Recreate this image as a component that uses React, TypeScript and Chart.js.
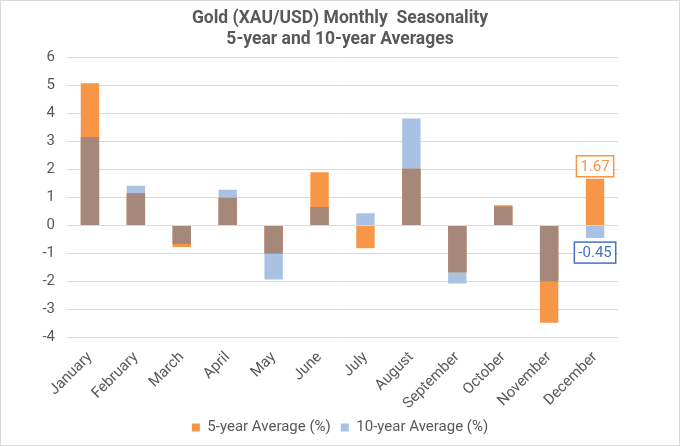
import React, { useEffect, useRef } from "react";
import { Chart, registerables } from "chart.js";

Chart.register(...registerables);

const months = ["January", "February", "March", "April", "May", "June", "July", "August", "September", "October", "November", "December"];
const fiveYear = [5.08, 1.15, -0.77, 0.99, -1.0, 1.9, -0.81, 2.03, -1.67, 0.72, -3.47, 1.67];
const tenYear = [3.16, 1.42, -0.66, 1.28, -1.93, 0.66, 0.44, 3.82, -2.07, 0.68, -2.0, -0.45];
const titleLines = ["Gold (XAU/USD) Monthly  Seasonality", "5-year and 10-year Averages"];
const seriesNames = ["5-year Average (%)", "10-year Average (%)"];

const ORANGE = "#F79646";
const BLUE = "#A9C2E4";
const BROWN = "#A6887A";
const GREY = "#595959";
const FONT = "Roboto, 'Noto Sans', sans-serif";

const overlap = fiveYear.map((a, i) => {
  const b = tenYear[i];
  if (a * b <= 0) return 0;
  return Math.sign(a) * Math.min(Math.abs(a), Math.abs(b));
});

const labelPlugin = {
  id: "lastLabels",
  afterDatasetsDraw(chart: any) {
    const ctx = chart.ctx;
    const idx = months.length - 1;
    const x = chart.scales.x.getPixelForValue(idx);
    const y = chart.scales.y;
    const draw = (val: number, color: string, border: string, above: boolean) => {
      const text = val.toFixed(2);
      ctx.save();
      ctx.font = `15px ${FONT}`;
      const w = ctx.measureText(text).width + 8;
      const h = 21;
      const py = y.getPixelForValue(val);
      const top = above ? py - 2 - h : py + 4;
      ctx.fillStyle = "#ffffff";
      ctx.fillRect(x - w / 2, top, w, h);
      ctx.strokeStyle = border;
      ctx.lineWidth = 1.5;
      ctx.strokeRect(x - w / 2, top, w, h);
      ctx.fillStyle = color;
      ctx.textAlign = "center";
      ctx.textBaseline = "middle";
      ctx.fillText(text, x, top + h / 2 + 1);
      ctx.restore();
    };
    draw(fiveYear[idx], ORANGE, ORANGE, fiveYear[idx] >= 0);
    draw(tenYear[idx], "#4472C4", "#4472C4", tenYear[idx] >= 0);
  },
};

const barOpts = { grouped: false, categoryPercentage: 0.8, barPercentage: 0.5, inflateAmount: 0, borderWidth: 0 };

export default function App() {
  const ref = useRef<HTMLCanvasElement>(null);
  useEffect(() => {
    if (!ref.current) return;
    const chart = new Chart(ref.current, {
      type: "bar",
      data: {
        labels: months,
        datasets: [
          { label: "overlap", data: overlap, backgroundColor: BROWN, ...barOpts } as any,
          { label: seriesNames[0], data: fiveYear, backgroundColor: ORANGE, ...barOpts } as any,
          { label: seriesNames[1], data: tenYear, backgroundColor: BLUE, ...barOpts } as any,
        ],
      },
      options: {
        animation: false,
        responsive: false,
        devicePixelRatio: 1,
        layout: { padding: 0 },
        scales: {
          x: {
            grid: { display: false },
            border: { display: false },
            ticks: {
              color: GREY,
              font: { family: FONT, size: 15 },
              minRotation: 45,
              maxRotation: 45,
              autoSkip: false,
              padding: 3,
            },
            afterFit: (s: any) => {
              const c = s.chart;
              const lh = c.legend ? c.legend.height : 35;
              const th = c.titleBlock ? c.titleBlock.height : 56.5;
              s.height = c.height - lh - th - 280;
            },
          },
          y: {
            min: -4,
            max: 6,
            ticks: { stepSize: 1, color: GREY, font: { family: FONT, size: 15 }, padding: 12 },
            grid: { color: "#D9D9D9", lineWidth: 1, drawTicks: false },
            border: { display: false },
            afterFit: (s: any) => { s.width = 66; },
          },
          yR: {
            position: "right",
            display: true,
            grid: { display: false, drawTicks: false },
            border: { display: false },
            ticks: { display: false },
            afterFit: (s: any) => { s.width = 61; },
          },
        },
        plugins: {
          title: {
            display: true,
            text: titleLines,
            color: GREY,
            font: { family: FONT, size: 17.5, weight: "bold" },
            padding: { top: 7, bottom: 7.5 },
          },
          legend: {
            position: "bottom",
            labels: {
              filter: (item: any) => item.text !== "overlap",
              color: GREY,
              font: { family: FONT, size: 15 },
              boxWidth: 8,
              boxHeight: 8,
              padding: 10,
            },
          },
          tooltip: { enabled: false },
        },
      },
      plugins: [labelPlugin],
    });
    return () => chart.destroy();
  }, []);
  return (
    <div style={{ position: "fixed", left: 0, top: 0, width: 680, height: 446, background: "#fff", boxSizing: "border-box", border: "1px solid #D9D9D9" }}>
      <canvas ref={ref} width={678} height={444} style={{ display: "block" }} />
    </div>
  );
}
